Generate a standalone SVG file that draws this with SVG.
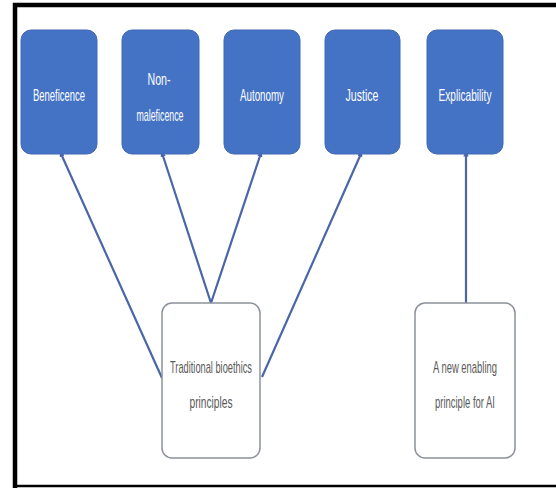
<svg xmlns="http://www.w3.org/2000/svg" width="556" height="488" viewBox="0 0 556 488">
<defs>
<style>
.blue{fill:#4472c4;stroke:#3f68b4;stroke-width:1}
.white{fill:#ffffff;stroke:#8c919a;stroke-width:1.5}
.lt{font-family:"Liberation Sans",Arial,sans-serif;font-size:17px;fill:#ffffff;text-anchor:middle}
.dt{font-family:"Liberation Sans",Arial,sans-serif;font-size:17px;fill:#5a5a5a;text-anchor:middle}
.conn{stroke:#4a66a8;stroke-width:2.2;fill:none;marker-start:url(#arr)}
</style>
<marker id="arr" viewBox="0 0 10 10" refX="1" refY="5" markerWidth="2.5" markerHeight="2.5" orient="auto-start-reverse">
<path d="M0,0 L10,5 L0,10 z" fill="#4a66a8"/>
</marker>
</defs>
<rect x="0" y="0" width="556" height="488" fill="#ffffff"/>
<g id="frame" fill="none" stroke="#000000">
<path d="M15,488 L15,5 L556,5" stroke-width="4.5"/>
<path d="M13,486 L556,486" stroke-width="2.5"/>
</g>
<g id="connectors">
<line class="conn" x1="62" y1="156" x2="162" y2="378"/>
<line class="conn" x1="163" y1="156" x2="211" y2="303"/>
<line class="conn" x1="260" y1="156" x2="211" y2="303"/>
<line class="conn" x1="360" y1="156" x2="262" y2="377"/>
<line class="conn" x1="466" y1="156" x2="466" y2="303"/>
</g>
<g id="beneficence">
<rect class="blue" x="21" y="30" width="76" height="124" rx="10"/>
<text class="lt" x="59" y="101" textLength="52" lengthAdjust="spacingAndGlyphs">Beneficence</text>
</g>
<g id="non-maleficence">
<rect class="blue" x="122" y="30" width="77" height="124" rx="10"/>
<text class="lt" x="159" y="85" textLength="23" lengthAdjust="spacingAndGlyphs">Non-</text>
<text class="lt" x="160" y="121" textLength="47" lengthAdjust="spacingAndGlyphs">maleficence</text>
</g>
<g id="autonomy">
<rect class="blue" x="224" y="30" width="76" height="124" rx="10"/>
<text class="lt" x="262" y="101" textLength="44" lengthAdjust="spacingAndGlyphs">Autonomy</text>
</g>
<g id="justice">
<rect class="blue" x="325" y="30" width="75" height="124" rx="10"/>
<text class="lt" x="362" y="101" textLength="33" lengthAdjust="spacingAndGlyphs">Justice</text>
</g>
<g id="explicability">
<rect class="blue" x="427" y="30" width="76" height="124" rx="10"/>
<text class="lt" x="465" y="101" textLength="53" lengthAdjust="spacingAndGlyphs">Explicability</text>
</g>
<g id="traditional">
<rect class="white" x="162" y="303" width="98" height="155" rx="10"/>
<text class="dt" x="211" y="373" textLength="82" lengthAdjust="spacingAndGlyphs">Traditional bioethics</text>
<text class="dt" x="211" y="408" textLength="43" lengthAdjust="spacingAndGlyphs">principles</text>
</g>
<g id="new-principle">
<rect class="white" x="415" y="303" width="100" height="155" rx="10"/>
<text class="dt" x="465" y="373" textLength="64" lengthAdjust="spacingAndGlyphs">A new enabling</text>
<text class="dt" x="465" y="408" textLength="60" lengthAdjust="spacingAndGlyphs">principle for AI</text>
</g>
</svg>
